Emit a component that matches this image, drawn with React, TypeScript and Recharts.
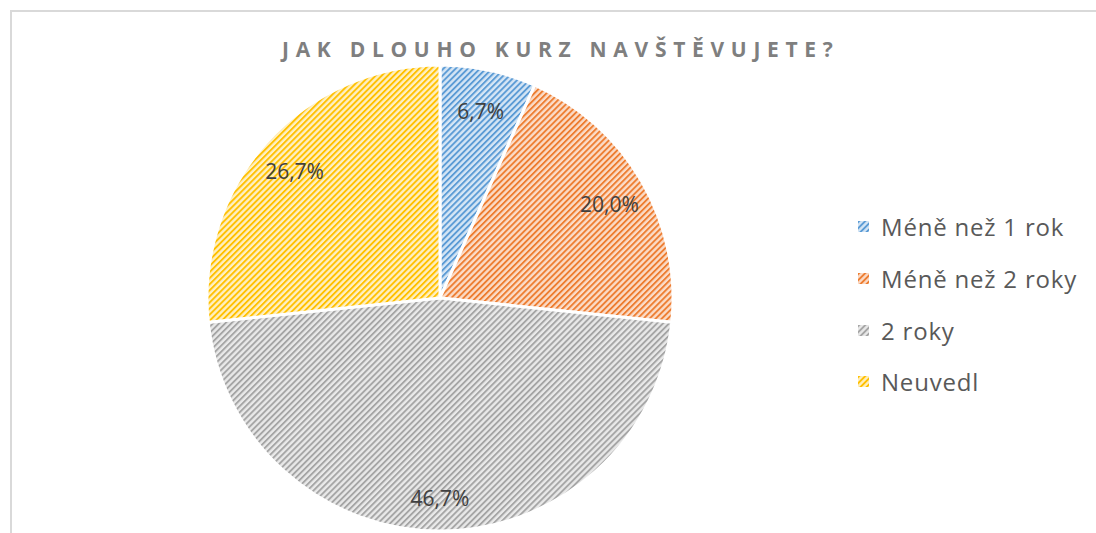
import { PieChart, Pie, Cell } from "recharts";

const categories = ["Méně než 1 rok", "Méně než 2 roky", "2 roky", "Neuvedl"];
const values = [1, 3, 7, 4];
const percentLabels = ["6,7%", "20,0%", "46,7%", "26,7%"];
const colors = ["#5b9bd5", "#ed7d31", "#a5a5a5", "#ffc000"];
const tints = ["#d6e6f5", "#fbdcc8", "#e9e9e9", "#fff0c2"];

const FONT = "'Open Sans', Lato, sans-serif";

const data = categories.map((name, i) => ({ name, value: values[i], label: percentLabels[i] }));

function StripeDefs({ prefix }: { prefix: string }) {
  return (
    <defs>
      {colors.map((c, i) => (
        <pattern
          key={i}
          id={`${prefix}${i}`}
          patternUnits="userSpaceOnUse"
          width={4.3}
          height={10}
          patternTransform="rotate(45)"
        >
          <rect width={4.3} height={10} fill={tints[i]} />
          <rect width={1.9} height={10} fill={c} />
        </pattern>
      ))}
    </defs>
  );
}

const renderLabel = (props: any) => {
  const { cx, cy, midAngle, outerRadius, index } = props;
  const r = outerRadius * 0.84;
  const rad = (Math.PI / 180) * midAngle;
  const x = cx + r * Math.cos(rad);
  const y = cy - r * Math.sin(rad) + 4;
  return (
    <text
      x={x}
      y={y}
      textAnchor="middle"
      dominantBaseline="central"
      fill="#404040"
      fontSize={21}
      fontFamily={FONT}
    >
      {percentLabels[index]}
    </text>
  );
};

function LegendBox() {
  return (
    <div style={{ fontFamily: FONT }}>
      {categories.map((name, i) => (
        <div key={name} style={{ display: "flex", alignItems: "center", height: 51.7 }}>
          <svg width={11} height={11} style={{ marginRight: 12 }}>
            <StripeDefs prefix={`lg${i}-`} />
            <rect width={11} height={11} fill={`url(#lg${i}-${i})`} />
          </svg>
          <span style={{ fontSize: 24, letterSpacing: 0.8, color: "#595959" }}>{name}</span>
        </div>
      ))}
    </div>
  );
}

export default function App() {
  return (
    <div style={{ position: "fixed", left: 0, top: 0, width: 1096, height: 533, background: "#fff", overflow: "hidden" }}>
      <div
        style={{
          position: "absolute",
          left: 10,
          top: 10,
          width: 1200,
          height: 700,
          borderLeft: "2px solid #d9d9d9",
          borderTop: "2px solid #d9d9d9",
        }}
      />
      <div
        style={{
          position: "absolute",
          left: 282,
          top: 35,
          whiteSpace: "nowrap",
          fontFamily: FONT,
          fontWeight: 700,
          fontSize: 21,
          letterSpacing: 6.7,
          color: "#7f7f7f",
        }}
      >
        JAK DLOUHO KURZ NAVŠTĚVUJETE?
      </div>
      <div style={{ position: "absolute", left: 0, top: 0 }}>
        <PieChart width={1096} height={533} margin={{ top: 0, right: 0, bottom: 0, left: 0 }}>
          <StripeDefs prefix="pat" />
          <Pie
            data={data}
            dataKey="value"
            nameKey="name"
            cx={440}
            cy={298}
            outerRadius={233}
            startAngle={90}
            endAngle={-270}
            stroke="#ffffff"
            strokeWidth={3}
            label={renderLabel}
            labelLine={false}
            isAnimationActive={false}
          >
            {data.map((d, i) => (
              <Cell key={d.name} fill={`url(#pat${i})`} />
            ))}
          </Pie>
        </PieChart>
      </div>
      <div style={{ position: "absolute", left: 858, top: 201 }}>
        <LegendBox />
      </div>
    </div>
  );
}
